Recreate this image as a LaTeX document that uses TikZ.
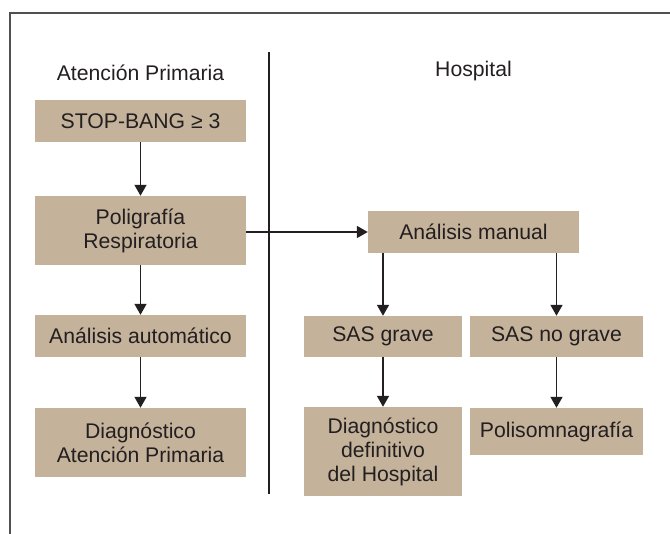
\documentclass[tikz,border=0pt]{standalone}
\usepackage{fontspec}
\setmainfont{Liberation Sans}
\usetikzlibrary{arrows.meta}
\definecolor{boxfill}{RGB}{196,178,154}
\definecolor{ink}{RGB}{35,31,32}
\definecolor{framegray}{RGB}{80,80,80}
\begin{document}
\begin{tikzpicture}[x=1pt,y=-1pt,
  font=\fontsize{21.2}{24}\selectfont,
  box/.style={rectangle, fill=boxfill, draw=none, inner sep=0pt, align=center, text=ink},
  title/.style={inner sep=0pt, text=ink},
  arr/.style={draw=ink, line width=1.6pt, -{Triangle[width=12pt,length=11pt]}}
]
\useasboundingbox (0,0) rectangle (670,534);
% frame
\draw[framegray, line width=1.5pt] (10,534) -- (10,13) -- (670,13);
% divider
\coordinate (dtop) at (269,52);
\coordinate (dbot) at (269,494);
\draw[ink, line width=1.5pt] (dtop) -- (dbot);
% titles
\node[title] (tap) at (140.5,73) {Atención Primaria};
\node[title] (th) at (473.5,71) {Hospital};
% left column
\node[box, minimum width=211pt, minimum height=42pt] (stop) at (140.5,121) {STOP-BANG ≥ 3};
\node[box, minimum width=211pt, minimum height=69pt] (poli) at (140.5,230.5) {Poligrafía\\Respiratoria};
\node[box, minimum width=211pt, minimum height=42pt] (aa) at (140.5,336) {Análisis automático};
\node[box, minimum width=211pt, minimum height=69pt] (dap) at (140.5,442.5) {Diagnóstico\\Atención Primaria};
% right column
\node[box, minimum width=211pt, minimum height=42pt] (am) at (473.5,232) {Análisis manual};
\node[box, minimum width=158pt, minimum height=41pt] (sg) at (383,336.5) {SAS grave};
\node[box, minimum width=173pt, minimum height=41pt] (sng) at (556.5,336.5) {SAS no grave};
\node[box, minimum width=158pt, minimum height=89pt] (dd) at (383,451.5) {Diagnóstico\\definitivo\\del Hospital};
\node[box, minimum width=173pt, minimum height=47pt] (pol) at (556.5,431.5) {Polisomnagrafía};
% connectors
\draw[arr] (stop) -- (poli);
\draw[arr] (poli) -- (aa);
\draw[arr] (aa) -- (dap);
\draw[arr] (poli.east |- am.west) -- (am.west);
\draw[arr] (am.south -| sg.north) -- (sg.north);
\draw[arr] (am.south -| sng.north) -- (sng.north);
\draw[arr] (sg) -- (dd);
\draw[arr] (sng) -- (pol);
\end{tikzpicture}
\end{document}
